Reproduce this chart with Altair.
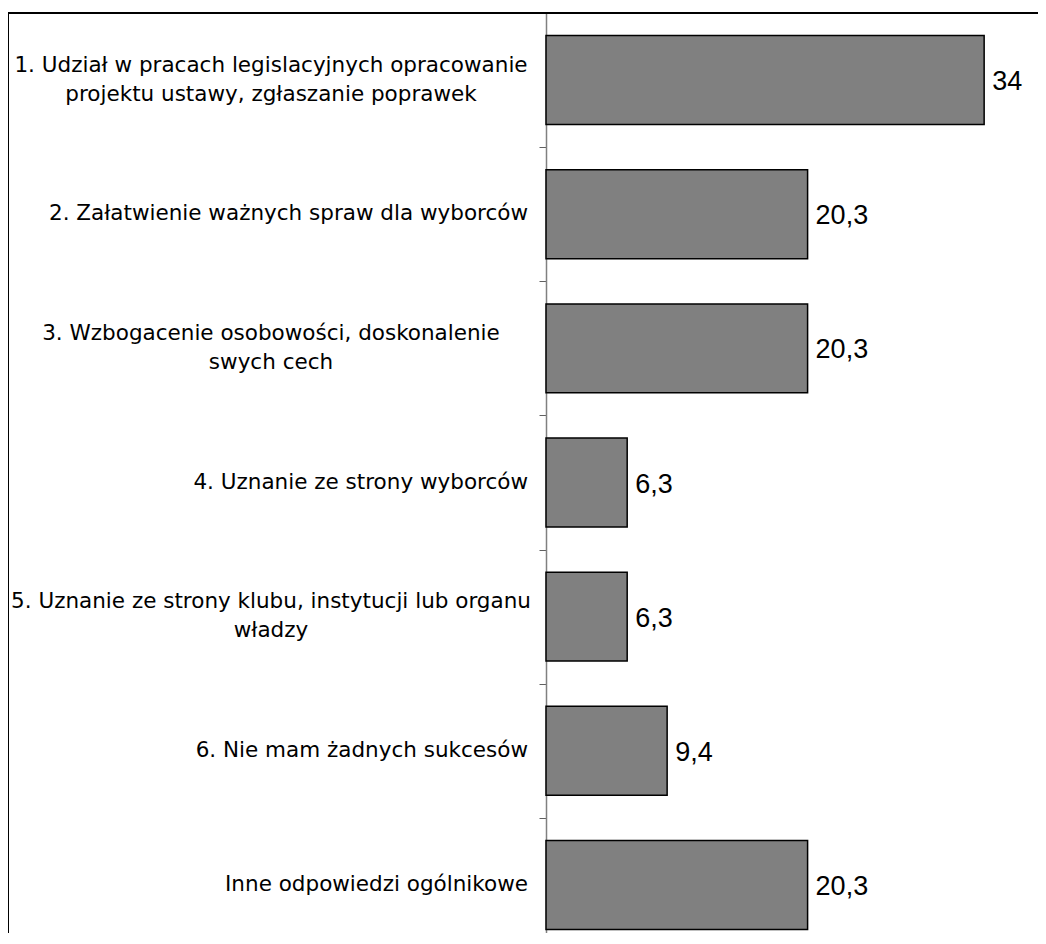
import altair as alt
import pandas as pd

categories = [
    "1. Udział w pracach legislacyjnych opracowanie\nprojektu ustawy, zgłaszanie poprawek",
    "2. Załatwienie ważnych spraw dla wyborców",
    "3. Wzbogacenie osobowości, doskonalenie\nswych cech",
    "4. Uznanie ze strony wyborców",
    "5. Uznanie ze strony klubu, instytucji lub organu\nwładzy",
    "6. Nie mam żadnych sukcesów",
    "Inne odpowiedzi ogólnikowe",
]
values = [34, 20.3, 20.3, 6.3, 6.3, 9.4, 20.3]

df = pd.DataFrame({"cat": categories, "value": values})

W, H = 1030, 920

x_scale = alt.Scale(domain=[0, 38.8], range=[538, 1038], nice=False, zero=True)
y_scale = alt.Scale(domain=categories, range=[0, 939], paddingInner=0, paddingOuter=0)

base = alt.Chart(df)

bars = base.mark_bar(
    color="#808080", stroke="black", strokeWidth=1.5,
    height=alt.RelativeBandSize(0.663),
).encode(
    x=alt.X("value:Q", scale=x_scale, axis=None),
    y=alt.Y(
        "cat:N",
        scale=y_scale,
        axis=alt.Axis(
            labels=False, title=None, tickBand="extent", tickSize=7,
            tickColor="#606060", domainColor="#808080", domainWidth=1.5,
            tickWidth=1, offset=-538, grid=False,
        ),
    ),
)

vals = base.transform_calculate(
    lab="replace(toString(datum.value), '.', ',')"
).mark_text(
    align="left", baseline="middle", dx=8, dy=2,
    font="Liberation Sans", fontSize=27, color="black",
).encode(
    x=alt.X("value:Q", scale=x_scale),
    y=alt.Y("cat:N", scale=y_scale),
    text="lab:N",
)

single = base.transform_filter("indexof(datum.cat, '\\n') < 0").mark_text(
    align="right", baseline="middle", font="DejaVu Sans", fontSize=21.5, color="black",
).encode(
    x=alt.value(520),
    y=alt.Y("cat:N", scale=y_scale),
    text="cat:N",
)

double = base.transform_filter("indexof(datum.cat, '\\n') >= 0").mark_text(
    align="center", baseline="middle", lineBreak="\n", lineHeight=29, dy=-14.5,
    font="DejaVu Sans", fontSize=21.5, color="black",
).encode(
    x=alt.value(263),
    y=alt.Y("cat:N", scale=y_scale),
    text="cat:N",
)

frame_df = pd.DataFrame({"k": [0]})
top = alt.Chart(frame_df).mark_rule(color="black", strokeWidth=2).encode(
    x=alt.value(0), x2=alt.value(1046), y=alt.value(0)
)
left = alt.Chart(frame_df).mark_rule(color="black", strokeWidth=2).encode(
    x=alt.value(0), y=alt.value(0), y2=alt.value(960)
)

chart = alt.layer(top, left, bars, vals, single, double).properties(
    width=W,
    height=H,
    autosize=alt.AutoSizeParams(type="none"),
    padding={"left": 0, "top": 5, "right": 0, "bottom": 0},
    background="white",
).configure_view(stroke=None)

chart.save("out.html", embed_options={"renderer": "svg", "actions": False})
